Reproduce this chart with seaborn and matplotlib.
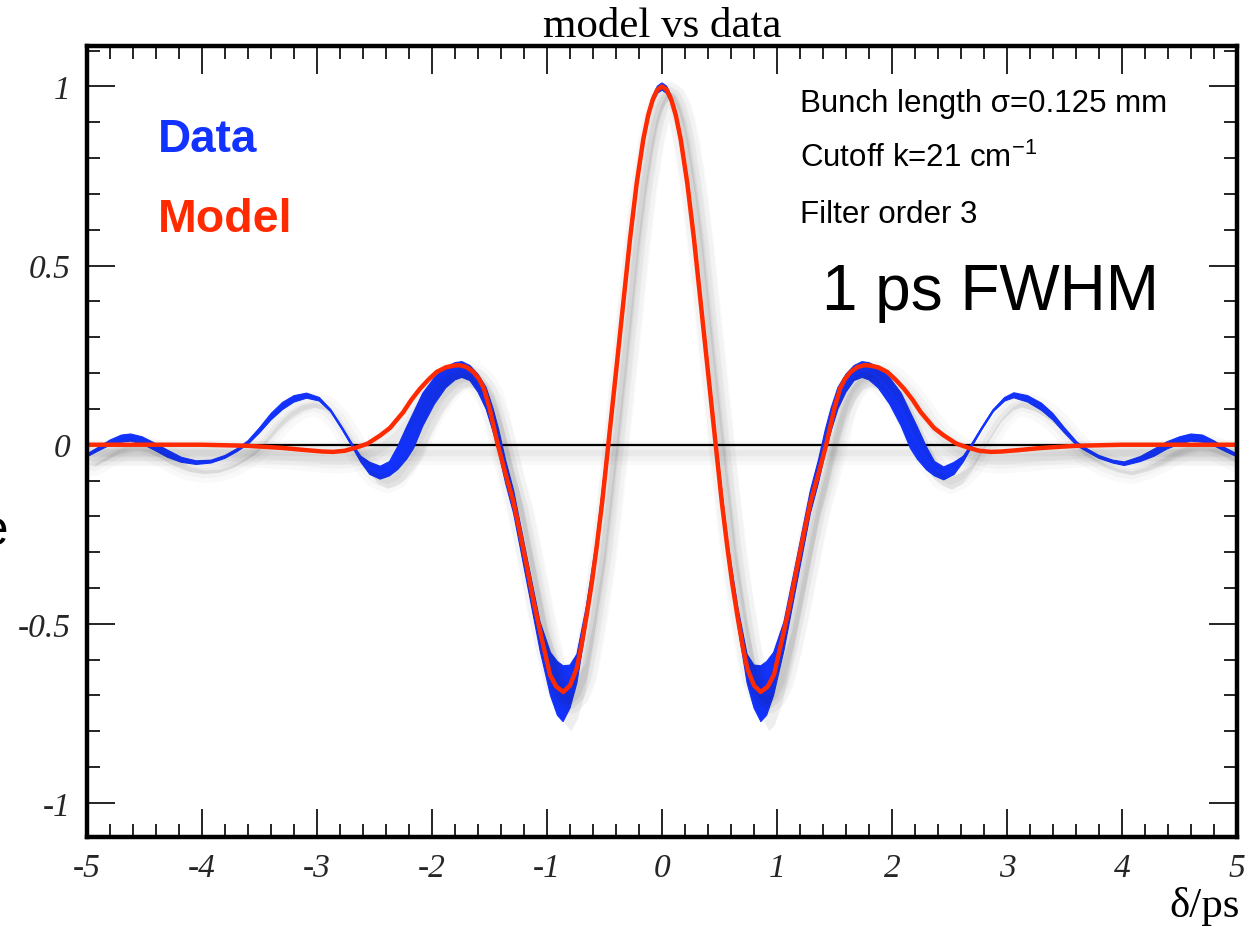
import numpy as np
import pandas as pd
import matplotlib
matplotlib.use("Agg")
import matplotlib.pyplot as plt
import seaborn as sns
from matplotlib import patheffects as pe
from matplotlib.ticker import MultipleLocator

# ---------------- data ----------------
# Measured data: delay (ps), centre of the noisy trace, half-width of the noise band
data_delta = [-5.00, -4.90, -4.80, -4.70, -4.62, -4.52, -4.42, -4.30, -4.18, -4.05,
              -3.92, -3.80, -3.70, -3.60, -3.50, -3.40, -3.30, -3.20, -3.09, -2.98,
              -2.88, -2.78, -2.70, -2.62, -2.54, -2.45, -2.37, -2.30, -2.22, -2.16,
              -2.08, -1.98, -1.88, -1.80, -1.74, -1.67, -1.60, -1.53, -1.47, -1.42,
              -1.36, -1.29, -1.18, -1.06, -0.97, -0.91, -0.86, -0.80, -0.74, -0.66,
              -0.57, -0.48, -0.40, -0.34, -0.28, -0.22, -0.16, -0.12, -0.08, -0.04,
              0.00,
              0.04, 0.08, 0.12, 0.16, 0.22, 0.28, 0.34, 0.40, 0.48, 0.57,
              0.66, 0.74, 0.80, 0.86, 0.91, 0.97, 1.06, 1.18, 1.29, 1.36,
              1.42, 1.47, 1.53, 1.60, 1.67, 1.74, 1.80, 1.88, 1.98, 2.08,
              2.16, 2.22, 2.30, 2.37, 2.45, 2.54, 2.62, 2.70, 2.78, 2.88,
              2.98, 3.06, 3.18, 3.30, 3.40, 3.50, 3.61, 3.70, 3.80, 3.92,
              4.02, 4.16, 4.28, 4.39, 4.50, 4.60, 4.70, 4.80, 4.90, 5.00]
data_centre = [-0.030, -0.012, 0.006, 0.017, 0.020, 0.012, -0.004, -0.025, -0.042, -0.050,
               -0.047, -0.034, -0.016, 0.006, 0.040, 0.078, 0.108, 0.128, 0.137, 0.127,
               0.095, 0.045, 0.002, -0.040, -0.066, -0.078, -0.067, -0.038, 0.005, 0.040,
               0.098, 0.150, 0.188, 0.205, 0.210, 0.200, 0.172, 0.130, 0.070, 0.010,
               -0.075, -0.160, -0.340, -0.535, -0.640, -0.680, -0.695, -0.675, -0.625, -0.480,
               -0.290, -0.035, 0.203, 0.386, 0.575, 0.730, 0.854, 0.920, 0.964, 0.991,
               1.000,
               0.991, 0.964, 0.920, 0.854, 0.730, 0.575, 0.386, 0.203, -0.035, -0.290,
               -0.480, -0.625, -0.675, -0.695, -0.680, -0.640, -0.535, -0.340, -0.160, -0.075,
               0.010, 0.070, 0.130, 0.172, 0.200, 0.210, 0.205, 0.188, 0.150, 0.098,
               0.040, 0.005, -0.038, -0.067, -0.080, -0.066, -0.040, 0.002, 0.045, 0.095,
               0.127, 0.138, 0.128, 0.106, 0.078, 0.040, 0.002, -0.016, -0.034, -0.047,
               -0.053, -0.040, -0.022, -0.002, 0.012, 0.020, 0.017, 0.004, -0.014, -0.030]
data_noise = [0.004, 0.005, 0.007, 0.010, 0.010, 0.010, 0.010, 0.010, 0.007, 0.005,
              0.004, 0.004, 0.004, 0.005, 0.007, 0.009, 0.010, 0.009, 0.007, 0.005,
              0.003, 0.003, 0.004, 0.008, 0.017, 0.018, 0.020, 0.032, 0.045, 0.050,
              0.046, 0.037, 0.029, 0.024, 0.022, 0.021, 0.025, 0.030, 0.032, 0.032,
              0.032, 0.032, 0.035, 0.040, 0.060, 0.075, 0.078, 0.060, 0.040, 0.025,
              0.022, 0.022, 0.022, 0.020, 0.018, 0.016, 0.014, 0.012, 0.010, 0.010,
              0.010,
              0.010, 0.010, 0.012, 0.014, 0.016, 0.018, 0.020, 0.022, 0.022, 0.022,
              0.025, 0.040, 0.060, 0.078, 0.075, 0.060, 0.040, 0.035, 0.032, 0.032,
              0.032, 0.032, 0.030, 0.025, 0.021, 0.022, 0.024, 0.029, 0.037, 0.046,
              0.050, 0.045, 0.032, 0.020, 0.018, 0.017, 0.008, 0.004, 0.003, 0.003,
              0.005, 0.007, 0.009, 0.010, 0.009, 0.007, 0.005, 0.004, 0.004, 0.004,
              0.005, 0.007, 0.010, 0.010, 0.010, 0.010, 0.010, 0.007, 0.005, 0.004]

# Model curve
model_delta = [-5.00, -4.50, -4.00, -3.60, -3.30, -3.10, -2.95, -2.86, -2.76, -2.66,
               -2.56, -2.45, -2.365, -2.25, -2.18, -2.105, -2.03, -1.96, -1.88, -1.81,
               -1.76, -1.70, -1.64, -1.59, -1.55, -1.50, -1.43, -1.365, -1.293, -1.235,
               -1.177, -1.115, -1.046, -0.974, -0.92, -0.858, -0.80, -0.742, -0.70, -0.655,
               -0.61, -0.57, -0.52, -0.467, -0.40, -0.34, -0.278, -0.22, -0.162, -0.12,
               -0.08, -0.04, 0.00,
               0.04, 0.08, 0.12, 0.162, 0.22, 0.278, 0.34, 0.40, 0.467, 0.52,
               0.57, 0.61, 0.655, 0.70, 0.742, 0.80, 0.858, 0.92, 0.974, 1.046,
               1.115, 1.177, 1.235, 1.293, 1.365, 1.43, 1.50, 1.55, 1.59, 1.64,
               1.70, 1.76, 1.81, 1.88, 1.96, 2.03, 2.105, 2.18, 2.25, 2.365,
               2.45, 2.56, 2.66, 2.76, 2.86, 2.95, 3.10, 3.30, 3.60, 4.00,
               4.50, 5.00]
model_value = [0.000, 0.000, 0.000, -0.003, -0.009, -0.015, -0.019, -0.020, -0.017, -0.008,
               0.003, 0.026, 0.047, 0.091, 0.125, 0.156, 0.182, 0.203, 0.216, 0.221,
               0.222, 0.217, 0.203, 0.183, 0.158, 0.103, 0.003, -0.076, -0.158, -0.245,
               -0.337, -0.440, -0.541, -0.642, -0.675, -0.690, -0.672, -0.625, -0.560, -0.476,
               -0.385, -0.290, -0.160, 0.000, 0.203, 0.386, 0.575, 0.730, 0.854, 0.920,
               0.964, 0.991, 1.000,
               0.991, 0.964, 0.920, 0.854, 0.730, 0.575, 0.386, 0.203, 0.000, -0.160,
               -0.290, -0.385, -0.476, -0.560, -0.625, -0.672, -0.690, -0.675, -0.642, -0.541,
               -0.440, -0.337, -0.245, -0.158, -0.076, 0.003, 0.103, 0.158, 0.183, 0.203,
               0.217, 0.222, 0.221, 0.216, 0.203, 0.182, 0.156, 0.125, 0.091, 0.047,
               0.026, 0.003, -0.008, -0.017, -0.020, -0.019, -0.015, -0.009, -0.003, 0.000,
               0.000, 0.000]

x_ticks = [-5, -4, -3, -2, -1, 0, 1, 2, 3, 4, 5]
x_tick_labels = ["-5", "-4", "-3", "-2", "-1", "0", "1", "2", "3", "4", "5"]
y_ticks = [-1, -0.5, 0, 0.5, 1]
y_tick_labels = ["-1", "-0.5", "0", "0.5", "1"]

info_lines = ["Bunch length σ=0.125 mm",
              "Cutoff k=21 cm$^{\\mathregular{-1}}$",
              "Filter order 3"]
big_label = "1 ps FWHM"

BLUE = "#1233FF"
RED = "#FF2A00"

# ---------------- styling ----------------
sns.set_theme(style="white")
plt.rcParams["font.family"] = ["Liberation Sans", "DejaVu Sans"]
plt.rcParams["mathtext.fontset"] = "custom"
plt.rcParams["mathtext.rm"] = "Liberation Sans"
plt.rcParams["mathtext.it"] = "Liberation Sans:italic"
plt.rcParams["mathtext.bf"] = "Liberation Sans:bold"

fig = plt.figure(figsize=(12.5, 9.28), dpi=100)
ax = fig.add_axes([87 / 1250, 1 - 838 / 928, 1150 / 1250, 791 / 928])
ax.set_facecolor("white")


def shadow(width, off=(5, -6)):
    return [pe.SimpleLineShadow(offset=off, shadow_color="k", alpha=0.022, linewidth=width + 16),
            pe.SimpleLineShadow(offset=off, shadow_color="k", alpha=0.03, linewidth=width + 9),
            pe.SimpleLineShadow(offset=off, shadow_color="k", alpha=0.04, linewidth=width + 3),
            pe.Normal()]


ax.axhline(0, color="black", lw=1.6, zorder=1,
           path_effects=shadow(1.6, (3, -6)))

df_data = pd.DataFrame({"delta": data_delta, "centre": data_centre, "noise": data_noise})
df_data["lo"] = df_data["centre"] - df_data["noise"]
df_data["hi"] = df_data["centre"] + df_data["noise"]
band = ax.fill_between(df_data["delta"], df_data["lo"], df_data["hi"], color=BLUE,
                       lw=0.8, edgecolor=BLUE, zorder=2)
band.set_path_effects([pe.SimplePatchShadow(offset=(6, -7), shadow_rgbFace="k", alpha=0.07),
                       pe.Normal()])
sns.lineplot(data=df_data, x="delta", y="centre", ax=ax, color=BLUE, lw=1.5,
             zorder=3, estimator=None, sort=False)
ax.lines[-1].set_path_effects(shadow(1.5))

df_model = pd.DataFrame({"delta": model_delta, "value": model_value})
sns.lineplot(data=df_model, x="delta", y="value", ax=ax, color=RED, lw=3.2,
             zorder=4, estimator=None, sort=False)
ax.lines[-1].set_path_effects(shadow(3.2))

ax.set_xlim(-5, 5)
ax.set_ylim(-1.095, 1.113)
ax.set_xlabel("")
ax.set_ylabel("")

serif = ["Liberation Serif", "DejaVu Serif"]
ax.set_xticks(x_ticks)
ax.set_xticklabels(x_tick_labels, family=serif, style="italic", fontsize=24)
ax.set_yticks(y_ticks)
ax.set_yticklabels(y_tick_labels, family=serif, style="italic", fontsize=24)
ax.xaxis.set_minor_locator(MultipleLocator(0.2))
ax.yaxis.set_minor_locator(MultipleLocator(0.1))
ax.tick_params(which="major", direction="in", length=20, width=1.2, color="black",
               top=True, right=True, bottom=True, left=True)
ax.tick_params(which="minor", direction="in", length=9.5, width=1.2, color="black",
               top=True, right=True, bottom=True, left=True)
ax.tick_params(axis="x", which="major", pad=11)
ax.tick_params(axis="y", which="major", pad=12)
for s in ax.spines.values():
    s.set_visible(True)
    s.set_color("black")
    s.set_linewidth(3.2)
    s.set_zorder(6)

ax.set_title("model vs data", family=serif, fontsize=31, pad=7, color="black")

fig.text(1240 / 1250, 1 - 917 / 928, "δ/ps", family=serif, fontsize=31,
         ha="right", va="baseline", color="black")
# axis title mostly outside the picture at the left edge (only its last letter shows)
fig.text(9 / 1250, 1 - 545 / 928, "Amplitude", fontsize=36, ha="right",
         va="baseline", color="black")

ax.text(-4.383, 0.854, "Data", color=BLUE, fontsize=33, fontweight="bold",
        ha="left", va="center")
ax.text(-4.383, 0.630, "Model", color=RED, fontsize=33.5, fontweight="bold",
        ha="left", va="center")

for txt, ypx in zip(info_lines, [112, 167, 223]):
    ax.text(1.2, (446 - ypx) / 358.5, txt, fontsize=22.5, ha="left", va="baseline",
            color="black")
ax.text(1.39, (446 - 310) / 358.5, big_label, fontsize=46, ha="left", va="baseline",
        color="black")

fig.savefig("out.png", dpi=100, facecolor="white")
